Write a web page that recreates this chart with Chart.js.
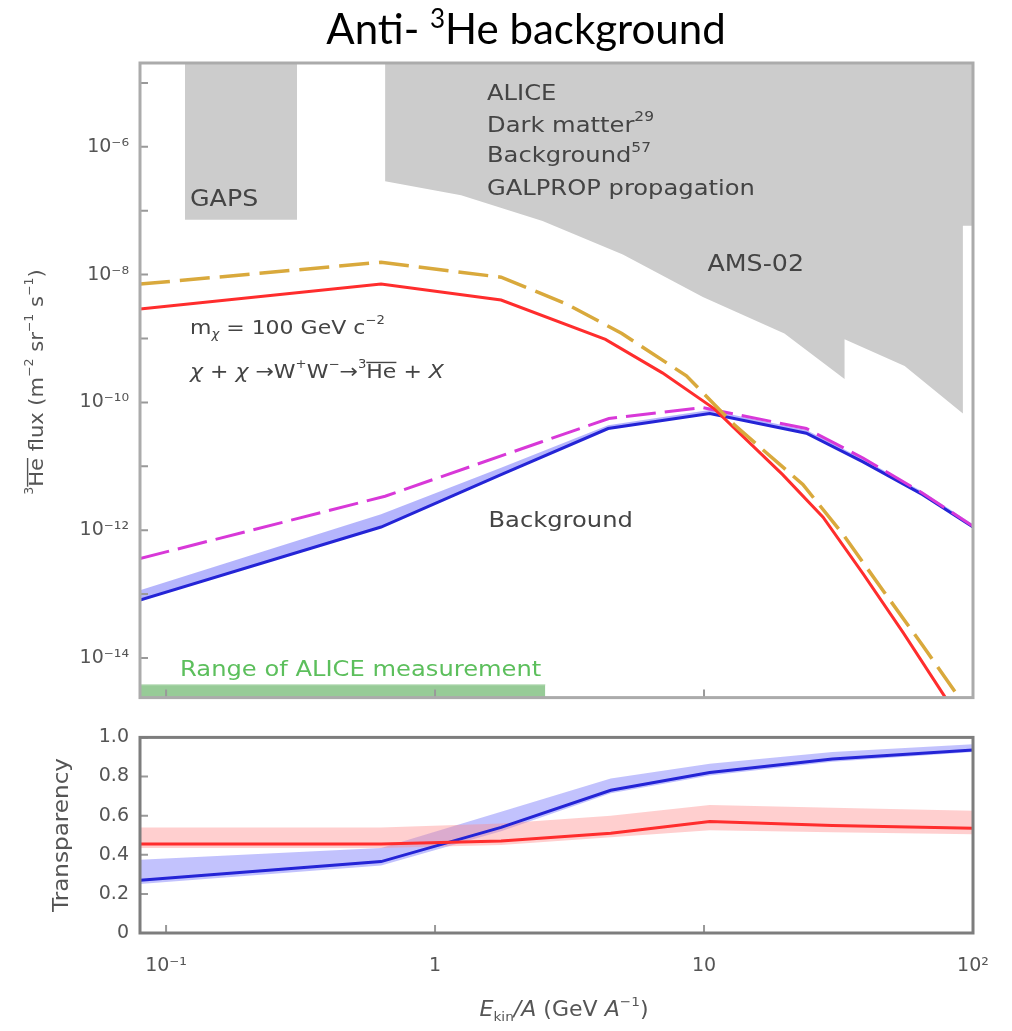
<!DOCTYPE html>
<html>
<head>
<meta charset="utf-8">
<title>Anti-3He background</title>
<script src="https://cdn.jsdelivr.net/npm/chart.js@4.4.1/dist/chart.umd.min.js"></script>
<style>
  body { margin: 0; background: #fff; }
  #page { position: relative; width: 1012px; height: 1031px; overflow: hidden; }
  #title { position: absolute; left: 20px; top: 0; width: 1012px; text-align: center;
           font: 42px Lato, sans-serif; line-height: 56px; color: #000; z-index: 2; }
  #title sup { font-size: 0.62em; vertical-align: baseline; position: relative; top: -0.62em; }
  canvas { position: absolute; left: 0; }
  #flux { top: 0; }
  #trans { top: 715px; }
</style>
</head>
<body>
<div id="page">
  <div id="title">Anti- <sup>3</sup>He background</div>
  <canvas id="flux" width="1012" height="720"></canvas>
  <canvas id="trans" width="1012" height="316"></canvas>
</div>
<script>
// kinetic energy per nucleon (GeV/A) and anti-3He flux (m^-2 sr^-1 s^-1 ...)
const bgE = [0.08, 0.63, 1.76, 4.4, 10.5, 24, 39, 65, 100];
const bgFlux = [8.05e-14, 1.12e-12, 7.4e-12, 3.9e-11, 6.7e-11, 3.3e-11, 1.17e-11, 3.6e-12, 1.12e-12];
const bgFluxHi = [1.15e-13, 1.78e-12, 9.5e-12, 4.4e-11, 7.6e-11, 3.7e-11, 1.3e-11, 4.0e-12, 1.24e-12];

const bgAltE = [0.08, 0.652, 2.48, 4.43, 9.9, 24, 39, 65, 100];
const bgAltFlux = [3.6e-13, 3.4e-12, 2.4e-11, 5.6e-11, 8.3e-11, 3.9e-11, 1.35e-11, 3.8e-12, 1.15e-12];

const dmE = [0.08, 0.63, 1.76, 4.3, 7.0, 10.9, 19.6, 27.7, 39, 55, 78, 100];
const dmFlux = [2.9e-9, 7.1e-9, 4.0e-9, 9.7e-10, 2.9e-10, 8.0e-11, 7.4e-12, 1.6e-12, 2.1e-13, 2.5e-14, 2.6e-15, 5e-16];

const dmAltE = [0.08, 0.63, 1.76, 3.07, 4.95, 8.6, 13, 23.3, 32.8, 46.2, 65, 86, 100];
const dmAltFlux = [7.1e-9, 1.56e-8, 9.1e-9, 3.5e-9, 1.2e-9, 2.6e-10, 4.4e-11, 5.2e-12, 8.7e-13, 1.15e-13, 1.57e-14, 2.9e-15, 1.1e-15];

// lower edges of the experiment sensitivity areas (shaded up to the top)
const gapsE = [0.1175, 0.307];
const gapsFlux = [7.2e-8, 7.2e-8];
const amsE = [0.652, 1.25, 2.51, 4.99, 9.9, 19.9, 33.3, 33.3, 55.7, 91.7, 91.7, 100];
const amsFlux = [2.88e-7, 1.75e-7, 6.93e-8, 2.06e-8, 4.47e-9, 1.2e-9, 2.33e-10, 9.7e-10, 3.7e-10, 6.7e-11, 5.8e-8, 5.8e-8];
// ALICE energy range, drawn as a strip on the bottom of the flux panel
const aliceE = [0.08, 2.57];
const aliceFlux = [3.8e-15, 3.8e-15];

// galaxy transparency
const trE = [0.08, 0.63, 1.76, 4.5, 10.5, 30, 100];
const trBlue = [0.27, 0.365, 0.54, 0.73, 0.82, 0.89, 0.935];
const trBlueHi = [0.375, 0.435, 0.62, 0.79, 0.865, 0.925, 0.965];
const trBlueLo = [0.25, 0.345, 0.52, 0.715, 0.805, 0.875, 0.925];
const trRed = [0.455, 0.455, 0.47, 0.51, 0.57, 0.55, 0.535];
const trRedHi = [0.54, 0.54, 0.56, 0.60, 0.655, 0.64, 0.625];
const trRedLo = [0.435, 0.435, 0.45, 0.49, 0.525, 0.515, 0.505];

// axis ticks
const energyTicks = [0.1, 1, 10, 100];
const energyLabels = ['10⁻¹', '1', '10', '10²'];
const fluxTicks = [1e-14, 1e-13, 1e-12, 1e-11, 1e-10, 1e-9, 1e-8, 1e-7, 1e-6, 1e-5];
const fluxLabels = ['10⁻¹⁴', '', '10⁻¹²', '', '10⁻¹⁰', '', '10⁻⁸', '', '10⁻⁶', ''];
const transTicks = [0, 0.2, 0.4, 0.6, 0.8, 1.0];
const transLabels = ['0', '0.2', '0.4', '0.6', '0.8', '1.0'];

const FONT = '"DejaVu Sans", sans-serif';
const TEXT = '#444';

const pts = (xs, ys) => xs.map((x, i) => ({ x, y: ys[i] }));

function line(xs, ys, color, width, dash, order) {
  return { data: pts(xs, ys), borderColor: color, borderWidth: width, borderDash: dash || [],
           pointRadius: 0, tension: 0, fill: false, order };
}
function area(xs, ys, color, fill, order) {
  return { data: pts(xs, ys), borderWidth: 0, borderColor: 'transparent', backgroundColor: color,
           pointRadius: 0, tension: 0, fill, order };
}

// text with super/subscripts and overlines, drawn straight on the canvas
function drawRich(ctx, runs, x, y, size, color, align, stretch) {
  const parts = runs.map(r => {
    const s = (r.sup || r.sub) ? Math.round(size * 0.62) : size;
    const font = (r.it ? 'italic ' : '') + s + 'px ' + FONT;
    ctx.font = font;
    return { r, font, w: ctx.measureText(r.t).width,
             dy: r.sup ? -size * 0.4 : r.sub ? size * 0.32 : 0 };
  });
  const total = parts.reduce((a, p) => a + p.w, 0);
  ctx.save();
  ctx.translate(x, y);
  ctx.scale(stretch || 1, 1);
  let cx = align === 'center' ? -total / 2 : 0;
  ctx.fillStyle = color;
  ctx.strokeStyle = color;
  ctx.textAlign = 'left';
  ctx.textBaseline = 'middle';
  for (const p of parts) {
    ctx.font = p.font;
    ctx.fillText(p.r.t, cx, p.dy);
    if (p.r.over) {
      ctx.lineWidth = 1.4;
      ctx.beginPath();
      ctx.moveTo(cx, -size * 0.52);
      ctx.lineTo(cx + p.w, -size * 0.52);
      ctx.stroke();
    }
    cx += p.w;
  }
  ctx.restore();
}

// frame around the plot area with short inward ticks
const framePlugin = {
  id: 'frame',
  afterDatasetsDraw(chart, args, opts) {
    const { ctx, chartArea: a, scales } = chart;
    ctx.save();
    ctx.strokeStyle = opts.tickColor;
    ctx.lineWidth = 2;
    ctx.beginPath();
    for (const t of scales.x.ticks) {
      const px = scales.x.getPixelForValue(t.value);
      ctx.moveTo(px, a.bottom);
      ctx.lineTo(px, a.bottom - 8);
    }
    for (const t of scales.y.ticks) {
      const py = scales.y.getPixelForValue(t.value);
      ctx.moveTo(a.left, py);
      ctx.lineTo(a.left + 8, py);
    }
    ctx.stroke();
    ctx.strokeStyle = opts.color;
    ctx.lineWidth = 3;
    ctx.strokeRect(a.left, a.top, a.right - a.left, a.bottom - a.top);
    ctx.restore();
  }
};

function textPlugin(notes, titles) {
  return {
    id: 'texts',
    afterDraw(chart) {
      const { ctx, scales } = chart;
      for (const n of notes) {
        drawRich(ctx, n.runs, scales.x.getPixelForValue(n.x), scales.y.getPixelForValue(n.y),
                 n.size, n.color || TEXT, 'left', 1.1);
      }
      for (const t of titles) {
        ctx.save();
        ctx.translate(t.x, t.y);
        if (t.rotate) ctx.rotate(-Math.PI / 2);
        drawRich(ctx, t.runs, 0, 0, t.size, '#555', 'center', 1.05);
        ctx.restore();
      }
    }
  };
}

const fluxNotes = [
  { x: 1.56, y: 6.6e-6, size: 22, runs: [{ t: 'ALICE' }] },
  { x: 1.56, y: 2.11e-6, size: 22, runs: [{ t: 'Dark matter' }, { t: '29', sup: true }] },
  { x: 1.56, y: 7.0e-7, size: 22, runs: [{ t: 'Background' }, { t: '57', sup: true }] },
  { x: 1.56, y: 2.16e-7, size: 22, runs: [{ t: 'GALPROP propagation' }] },
  { x: 0.1227, y: 1.46e-7, size: 23, runs: [{ t: 'GAPS' }] },
  { x: 10.3, y: 1.4e-8, size: 23, runs: [{ t: 'AMS-02' }] },
  { x: 0.1227, y: 1.43e-9, size: 20,
    runs: [{ t: 'm' }, { t: 'χ', sub: true, it: true }, { t: ' = 100 GeV c' }, { t: '−2', sup: true }] },
  { x: 0.1227, y: 2.9e-10, size: 20,
    runs: [{ t: 'χ', it: true }, { t: ' + ' }, { t: 'χ', it: true }, { t: ' →W' }, { t: '+', sup: true },
           { t: 'W' }, { t: '−', sup: true }, { t: '→' }, { t: '3', sup: true }, { t: 'He', over: true },
           { t: ' + ' }, { t: 'X', it: true }] },
  { x: 1.58, y: 1.39e-12, size: 22, runs: [{ t: 'Background' }] },
  { x: 0.1127, y: 6.4e-15, size: 22, color: '#5cbf5c', runs: [{ t: 'Range of ALICE measurement' }] }
];

const fluxTitles = [
  { x: 38, y: 382, size: 20, rotate: true,
    runs: [{ t: '3', sup: true }, { t: 'He', over: true }, { t: ' flux (m' }, { t: '−2', sup: true },
           { t: ' sr' }, { t: '−1', sup: true }, { t: ' s' }, { t: '−1', sup: true }, { t: ')' }] }
];

const transTitles = [
  { x: 62, y: 120, size: 22, rotate: true, runs: [{ t: 'Transparency' }] },
  { x: 564, y: 296, size: 21,
    runs: [{ t: 'E', it: true }, { t: 'kin', sub: true }, { t: '/A', it: true }, { t: ' (GeV ' },
           { t: 'A', it: true }, { t: '−1', sup: true }, { t: ')' }] }
];

const tickFont = { family: FONT, size: 19 };

new Chart(document.getElementById('flux'), {
  type: 'line',
  data: {
    datasets: [
      line(dmAltE, dmAltFlux, '#d9a93c', 3.5, [30, 10], 0),
      line(dmE, dmFlux, '#ff2d2d', 3, null, 1),
      line(bgAltE, bgAltFlux, '#d838d8', 3, [30, 9], 2),
      area(bgE, bgFluxHi, 'rgba(120,120,250,0.55)', '+1', 4),
      line(bgE, bgFlux, '#2424d6', 3, null, 3),
      area(gapsE, gapsFlux, '#cccccc', 'end', 9),
      area(amsE, amsFlux, '#cccccc', 'end', 9),
      Object.assign(area(aliceE, aliceFlux, '#97cb97', 'start', 8), { borderWidth: 1, borderColor: '#b8dcb8' })
    ]
  },
  options: {
    responsive: false,
    animation: false,
    layout: { padding: { left: 0, top: 63, right: 39, bottom: 15 } },
    plugins: { legend: { display: false }, tooltip: { enabled: false }, frame: { color: '#ababab', tickColor: '#999' } },
    scales: {
      x: {
        type: 'logarithmic', min: 0.08, max: 100,
        grid: { display: false, drawTicks: false }, border: { display: false },
        ticks: { display: false },
        afterBuildTicks: s => { s.ticks = energyTicks.map(v => ({ value: v })); },
        afterFit: s => { s.height = 0; }
      },
      y: {
        type: 'logarithmic', min: 2.4e-15, max: 2.05e-5,
        grid: { display: false, drawTicks: false }, border: { display: false },
        ticks: { font: tickFont, color: '#555', padding: 11, autoSkip: false,
                 callback: (v, i) => fluxLabels[i] },
        afterBuildTicks: s => { s.ticks = fluxTicks.map(v => ({ value: v })); },
        afterFit: s => { s.width = 140; }
      }
    }
  },
  plugins: [framePlugin, textPlugin(fluxNotes, fluxTitles)]
});

new Chart(document.getElementById('trans'), {
  type: 'line',
  data: {
    datasets: [
      line(trE, trRed, '#ff2d2d', 3, null, 1),
      area(trE, trRedHi, 'rgba(255,140,140,0.42)', '+1', 5),
      area(trE, trRedLo, 'transparent', false, 6),
      line(trE, trBlue, '#2424d6', 3, null, 2),
      area(trE, trBlueHi, 'rgba(110,110,250,0.42)', '+1', 5),
      area(trE, trBlueLo, 'transparent', false, 6)
    ]
  },
  options: {
    responsive: false,
    animation: false,
    layout: { padding: { left: 0, top: 20, right: 39, bottom: 0 } },
    plugins: { legend: { display: false }, tooltip: { enabled: false }, frame: { color: '#7d7d7d', tickColor: '#999' } },
    scales: {
      x: {
        type: 'logarithmic', min: 0.08, max: 100,
        grid: { display: false, drawTicks: false }, border: { display: false },
        ticks: { font: tickFont, color: '#555', padding: 22, autoSkip: false, maxRotation: 0,
                 callback: (v, i) => energyLabels[i] },
        afterBuildTicks: s => { s.ticks = energyTicks.map(v => ({ value: v })); },
        afterFit: s => { s.height = 98; }
      },
      y: {
        type: 'linear', min: 0, max: 1,
        grid: { display: false, drawTicks: false }, border: { display: false },
        ticks: { font: tickFont, color: '#555', padding: 11, autoSkip: false,
                 callback: (v, i) => transLabels[i] },
        afterBuildTicks: s => { s.ticks = transTicks.map(v => ({ value: v })); },
        afterFit: s => { s.width = 140; }
      }
    }
  },
  plugins: [framePlugin, textPlugin([], transTitles)]
});
</script>
</body>
</html>
